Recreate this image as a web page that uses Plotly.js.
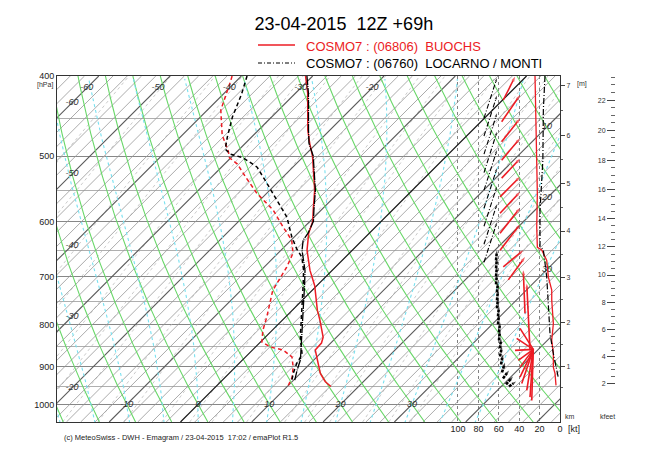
<!DOCTYPE html>
<html><head><meta charset="utf-8">
<script src="https://cdn.plot.ly/plotly-3.0.1.min.js"></script>
<style>body{margin:0;background:#fff}#chart{width:650px;height:455px}</style>
</head><body><div id="chart"></div>
<script>
// ---------------- DATA ----------------
// BUOCHS (red) temperature and dew point profiles [hPa, degC]
const buochsTempP = [400, 419.5, 465.1, 482.4, 500, 530.4, 550, 581.6, 600, 620.2, 641.2, 650.3, 688, 717.9, 768.6, 790.8, 828.7, 842.5, 859, 882.9, 917, 937.7, 950.9];
const buochsTemp  = [-31.0, -28.3, -23.1, -21.0, -18.8, -15.6, -13.7, -11.1, -9.6, -8.5, -7.0, -6.35, -3.1, -0.3, 3.5, 5.3, 8.1, 8.7, 8.8, 10.5, 12.8, 14.6, 16.1];
const buochsDewP  = [400, 405.6, 439.9, 471.7, 493.2, 502.4, 511.4, 530.4, 554.6, 581.6, 610, 632.4, 655.8, 682.4, 713.8, 727.9, 784, 813.3, 840.2, 851.9, 859, 875.7, 900.9, 927.2, 948.2];
const buochsDew   = [-41.3, -40.8, -38.1, -34.4, -31.3, -30.2, -28.2, -25.2, -21.4, -16.7, -12.9, -9.9, -7.9, -6.8, -5.9, -5.5, -2.6, -1.3, 0.2, 2.1, 4.3, 6.5, 8.1, 9.4, 10.0];
// LOCARNO / MONTI (black)
const locarnoTempP = [400, 419.5, 465.1, 482.4, 500, 530.4, 550, 581.6, 600, 620, 632.4, 650.3, 688, 713.8, 768.6, 828.7, 882.9, 909, 935.5];
const locarnoTemp  = [-30.8, -28.2, -23.0, -21.1, -18.7, -15.5, -13.6, -11.0, -9.5, -8.6, -8.3, -7.05, -3.8, -2.0, 1.5, 5.1, 8.1, 9.1, 10.2];
const locarnoDewP  = [400, 421.1, 448.5, 474.3, 490.5, 497.4, 502.4, 515.8, 539.3, 565.6, 593.1, 627.1, 647.7, 663, 688, 713.8, 768.6, 828.7, 870, 892.3, 917, 935.5];
const locarnoDew   = [-39.2, -37.4, -35.5, -33.4, -32.0, -30.6, -28.3, -25.0, -21.4, -17.6, -13.8, -10.3, -8.0, -6.1, -4.0, -2.2, 1.3, 4.9, 7.6, 8.1, 9.0, 9.8];
// wind speed profiles [hPa, kt]
const buochsWindP  = [400, 461, 555, 610, 645, 650, 669, 701, 727, 748, 798, 836, 867, 902, 917, 948];
const buochsWindKt = [24.5, 23.5, 22.2, 22.8, 22.2, 17.9, 13.0, 11.4, 8.1, 8.1, 6.5, 8.1, 6.5, 6.5, 4.9, 3.9];
const locarnoWindP  = [400, 439, 506, 582, 643, 650, 701, 762, 821, 868, 909, 927];
const locarnoWindKt = [14.7, 16.3, 16.8, 19.6, 19.6, 16.3, 13.0, 11.4, 9.8, 6.5, 3.3, 1.7];
// wind vectors (tail -> head) in the wind panel [kt axis, hPa]
const redArrowTailKt = [55.6, 57.2, 57.2, 57.2, 57.2, 58.8, 58.8, 58.8, 58.8, 55.6, 50.7, 34.3, 29.4];
const redArrowTailP  = [427.7, 454.5, 480.6, 505.9, 531.9, 560.3, 586.6, 620.3, 650.3, 681, 706.3, 775.5, 859.9];
const redArrowHeadKt = [44.1, 39.2, 39.2, 39.2, 39.2, 39.2, 39.2, 39.2, 39.2, 36.0, 34.3, 36.0, 32.6];
const redArrowHeadP  = [400.8, 421.9, 450.2, 475.9, 503.8, 529.9, 552.7, 577.9, 605.2, 650.3, 662.9, 687.7, 713.8];
const redFanCenterKt = 26.2, redFanCenterP = 857.5;
const redFanKt = [44.1, 42.5, 39.2, 40.9, 39.2, 39.2, 37.5, 32.6, 29.4, 27.7];
const redFanP  = [859.9, 831.6, 808.6, 884.3, 901, 926.5, 942.9, 961.6, 979.7, 988.8];
const blackArrowTailKt = [74.5, 74.5, 74.5, 74.5, 74.5, 74.5, 74.5, 74.5, 74.5];
const blackArrowTailP  = [449.8, 472.9, 497.4, 523.7, 550, 578.4, 608.2, 639.5, 672.5];
const blackArrowHeadKt = [61.8, 61.8, 61.8, 61.8, 61.8, 61.8, 61.8, 61.8, 61.8];
const blackArrowHeadP  = [402.2, 422.5, 443.9, 467.4, 491.8, 517.2, 543.9, 571.9, 601.4];
const blackLowTailKt = [62.7, 62.7, 62.7, 62.7, 61.8, 61.8, 61.8, 60.8, 60.8, 59.8, 59.8, 58.8, 58.8, 57.8, 56.9, 55.9, 52.9, 50.0];
const blackLowTailP  = [668.8, 683.9, 699.4, 715.2, 731.4, 747.8, 764.8, 782.0, 799.7, 817.8, 836.3, 855.1, 874.5, 894.3, 914.4, 929.9, 945.6, 950.9];
const blackLowHeadKt = [61.8, 61.8, 61.8, 61.8, 60.8, 60.8, 60.8, 59.8, 59.8, 58.8, 58.8, 57.8, 56.9, 55.9, 53.9, 50.0, 46.1, 43.1];
const blackLowHeadP  = [650.4, 665.1, 680.1, 695.5, 711.2, 727.3, 743.7, 760.5, 777.7, 795.2, 813.2, 831.6, 850.4, 869.6, 889.3, 909.4, 924.7, 937.7];
// axes / labels
const pressureTicks = [400, 500, 600, 700, 800, 900, 1000];
const pressureMinor = [450, 550, 650, 750, 850, 950];
const windTicks = [0, 20, 40, 60, 80, 100];
const kmTicks = [1, 2, 3, 4, 5, 6, 7];
const kfeetTicks = [2, 4, 6, 8, 10, 12, 14, 16, 18, 20, 22];
const isoLabelTop = [-60, -50, -40, -30, -20];
const isoLabelLeft = [-60, -50, -40, -30, -20];
const isoLabelBottom = [-10, 0, 10, 20, 30];
const isoLabelRight = [10, 20, 30];
const titleText = '23-04-2015\u00a0\u00a012Z +69h';
const legendRed = 'COSMO7 : (06806)\u00a0\u00a0BUOCHS';
const legendBlack = 'COSMO7 : (06760)\u00a0\u00a0LOCARNO / MONTI';
const footerText = '(c) MeteoSwiss - DWH - Emagram / 23-04-2015\u00a0\u00a017:02 / emaPlot R1.5';

// ---------------- GEOMETRY ----------------
const SKEW = 50.29;           // degC per unit ln(p) (45 deg skew)
const PTOP = 400, PBOT = 1050;
const XMIN = -19.776, XMAX = 50.77;
const sx = (T, p) => T + SKEW * Math.log(1000 / p);
const RED = 'rgb(236,28,36)';
const pGrid = []; for (let p = PBOT; p >= PTOP - 0.1; p -= 5) pGrid.push(p);

function lineTrace(xs, ys, color, width, dash, xa) {
  return {type: 'scatter', mode: 'lines', x: xs, y: ys, xaxis: xa || 'x', yaxis: 'y',
    line: {color: color, width: width, dash: dash || 'solid'}, hoverinfo: 'skip', connectgaps: false};
}
const traces = [];

// isotherms
const isoLight = {x: [], y: []}, isoDark = {x: [], y: []}, isoZero = {x: [], y: []};
for (let T = -130; T <= 60; T += 2) {
  const tgt = T === 0 ? isoZero : (T % 10 === 0 ? isoDark : isoLight);
  tgt.x.push(sx(T, PBOT), sx(T, PTOP), null); tgt.y.push(PBOT, PTOP, null);
}
// mixing ratio lines (g/kg)
const mix = {x: [], y: []};
const mixVals = [0.05, 0.1, 0.2, 0.3, 0.5, 0.7, 1, 1.5, 2, 3, 4, 5, 7, 10, 12, 15, 20, 25, 30];
mixVals.forEach(w => {
  pGrid.forEach(p => {
    const e = p * w / (622 + w);
    const l = Math.log(e / 6.112);
    const td = 243.5 * l / (17.67 - l);
    mix.x.push(sx(td, p)); mix.y.push(p);
  });
  mix.x.push(null); mix.y.push(null);
});
// dry adiabats
const dry = {x: [], y: []};
for (let th = 233.15; th <= 383.15; th += 5) {
  pGrid.forEach(p => { dry.x.push(sx(th * Math.pow(p / 1000, 0.2857) - 273.15, p)); dry.y.push(p); });
  dry.x.push(null); dry.y.push(null);
}
// moist (pseudo) adiabats
function dTdlnp(Tk, p) {
  const es = 6.112 * Math.exp(17.67 * (Tk - 273.15) / (Tk - 29.65));
  const rs = 0.622 * es / (p - es);
  const Rd = 287.04, cp = 1005.7, Lv = 2.501e6;
  return (Rd * Tk + Lv * rs) / (cp + Lv * Lv * rs * 0.622 / (Rd * Tk * Tk));
}
const moist = {x: [], y: []};
for (let tw = -25; tw <= 40; tw += 5) {
  const up = [], dn = [];
  const h = 0.004;
  let Tk = tw + 273.15, lp = Math.log(1000);
  while (Math.exp(lp) > PTOP - 1) {
    const p = Math.exp(lp), k1 = dTdlnp(Tk, p), k2 = dTdlnp(Tk - k1 * h / 2, Math.exp(lp - h / 2));
    Tk -= k2 * h; lp -= h; up.push([Math.exp(lp), Tk - 273.15]);
  }
  Tk = tw + 273.15; lp = Math.log(1000);
  while (Math.exp(lp) < PBOT + 1) {
    const p = Math.exp(lp), k1 = dTdlnp(Tk, p), k2 = dTdlnp(Tk + k1 * h / 2, Math.exp(lp + h / 2));
    Tk += k2 * h; lp += h; dn.push([Math.exp(lp), Tk - 273.15]);
  }
  const all = dn.reverse().concat([[1000, tw]], up);
  all.forEach((a, i) => { if (i % 5 === 0) { moist.x.push(sx(a[1], a[0])); moist.y.push(a[0]); } });
  moist.x.push(null); moist.y.push(null);
}

traces.push(lineTrace(mix.x, mix.y, 'rgb(180,180,180)', 0.7, '3px,3px'));
traces.push(lineTrace(isoLight.x, isoLight.y, 'rgb(150,150,150)', 0.8));
traces.push(lineTrace(isoDark.x, isoDark.y, 'rgb(90,90,90)', 1.1));
traces.push(lineTrace(dry.x, dry.y, 'rgb(105,215,105)', 1.1));
traces.push(lineTrace(moist.x, moist.y, 'rgb(120,225,240)', 1.1, 'dot'));
traces.push(lineTrace(isoZero.x, isoZero.y, 'rgb(20,20,20)', 1.2));

// profiles
traces.push(lineTrace(buochsTemp.map((t, i) => sx(t, buochsTempP[i])), buochsTempP, RED, 1.5));
traces.push(lineTrace(buochsDew.map((t, i) => sx(t, buochsDewP[i])), buochsDewP, RED, 1.5, '4px,3px'));
traces.push(lineTrace(locarnoTemp.map((t, i) => sx(t, locarnoTempP[i])), locarnoTempP, 'rgb(0,0,0)', 1.3, '9px,1px,1px,1px'));
traces.push(lineTrace(locarnoDew.map((t, i) => sx(t, locarnoDewP[i])), locarnoDewP, 'rgb(0,0,0)', 1.5, '4px,3px'));

// wind panel
function arrows(tk, tp, hk, hp, color, width, dash, head) {
  const x = [], y = [], s = [];
  tk.forEach((v, i) => { x.push(v, hk[i], null); y.push(tp[i], hp[i], null); s.push(0, head, 0); });
  return {type: 'scatter', mode: head ? 'lines+markers' : 'lines', x: x, y: y, xaxis: 'x2', yaxis: 'y',
    line: {color: color, width: width, dash: dash || 'solid'},
    marker: {symbol: 'arrow', size: s, angleref: 'previous', color: color, line: {width: 0}},
    hoverinfo: 'skip'};
}
traces.push(arrows(blackArrowTailKt, blackArrowTailP, blackArrowHeadKt, blackArrowHeadP, 'rgb(0,0,0)', 1.1, '5px,2px,1px,2px', 4));
traces.push(arrows(blackLowTailKt, blackLowTailP, blackLowHeadKt, blackLowHeadP, 'rgb(0,0,0)', 2.6, '3px,1px', 4));
traces.push(arrows(redArrowTailKt, redArrowTailP, redArrowHeadKt, redArrowHeadP, RED, 1.6, 'solid', 5));
traces.push(arrows(redFanKt.map(() => redFanCenterKt), redFanKt.map(() => redFanCenterP), redFanKt, redFanP, RED, 1.6, 'solid', 0));
traces.push(lineTrace(buochsWindKt, buochsWindP, RED, 1.3, 'solid', 'x2'));
traces.push(lineTrace(locarnoWindKt, locarnoWindP, 'rgb(0,0,0)', 1.2, '6px,2px,1px,2px', 'x2'));

// isotherm labels
const lab = {x: [], y: [], t: []};
const pAt = (X, T) => 1000 * Math.exp(-(X - T) / SKEW);
isoLabelTop.forEach(T => { lab.x.push(sx(T, 413.6)); lab.y.push(413.6); lab.t.push(String(T)); });
isoLabelLeft.forEach(T => { const X = -17.67; lab.x.push(X); lab.y.push(pAt(X, T)); lab.t.push(String(T)); });
isoLabelBottom.forEach(T => { lab.x.push(sx(T, 1000)); lab.y.push(1000); lab.t.push(String(T)); });
isoLabelRight.forEach(T => { const X = 48.95; lab.x.push(X); lab.y.push(pAt(X, T)); lab.t.push(String(T)); });
traces.push({type: 'scatter', mode: 'text', x: lab.x, y: lab.y, text: lab.t, textposition: 'middle center',
  textfont: {family: 'Liberation Sans, Arial, sans-serif', size: 9, color: '#333', style: 'italic'},
  hoverinfo: 'skip', cliponaxis: false});

// dummy traces so the extra height axes render
traces.push({type: 'scatter', mode: 'markers', x: [0], y: [500], yaxis: 'y2', marker: {opacity: 0}, hoverinfo: 'skip'});
traces.push({type: 'scatter', mode: 'markers', x: [0], y: [500], yaxis: 'y3', marker: {opacity: 0}, hoverinfo: 'skip'});

// height axes (standard atmosphere)
const stdP = hm => 1013.25 * Math.pow(1 - 2.25577e-5 * hm, 5.25588);
const kmMinor = []; for (let h = 0.5; h <= 7.5; h += 0.5) if (h % 1 !== 0) kmMinor.push(stdP(h * 1000));
const kftMinor = []; for (let f = 2.5; f <= 23.5; f += 0.5) if (f % 2 !== 0) kftMinor.push(stdP(f * 304.8));

const W = 573, H = 346, L = 57, TOP = 76;
const px = v => (v - L) / W, py = v => (TOP + H - v) / H;
const FONT = 'Liberation Sans, Arial, sans-serif';
const yr = [Math.log10(PBOT), Math.log10(PTOP)];

const layout = {
  width: 650, height: 455, margin: {l: 57, r: 20, t: 76, b: 33},
  paper_bgcolor: '#fff', plot_bgcolor: '#fff', showlegend: false,
  font: {family: FONT, size: 9, color: '#222'},
  title: {text: titleText, x: 0.529, xanchor: 'center', y: 0.947, yanchor: 'middle', font: {family: FONT, size: 18, color: '#000'}},
  xaxis: {domain: [0, 503 / 573], range: [XMIN, XMAX], showgrid: false, zeroline: false, showticklabels: false,
    ticks: '', showline: true, mirror: true, linecolor: '#333', linewidth: 1},
  xaxis2: {overlaying: 'x', anchor: 'y', side: 'bottom', range: [493.1, 0], tickmode: 'array', tickvals: windTicks,
    ticktext: windTicks.map(String), showgrid: true, griddash: 'dot', gridcolor: 'rgb(130,130,130)', gridwidth: 1,
    zeroline: false, ticks: '', showline: false, tickfont: {size: 9, color: '#222'}},
  yaxis: {type: 'log', range: yr, tickmode: 'array', tickvals: pressureTicks, ticktext: pressureTicks.map(String),
    showgrid: true, gridcolor: 'rgb(135,135,135)', gridwidth: 1,
    minor: {tickmode: 'array', tickvals: pressureMinor, showgrid: true, gridcolor: 'rgb(175,175,175)', gridwidth: 1, ticks: ''},
    showline: true, mirror: true, linecolor: '#333', ticks: '', zeroline: false, tickfont: {size: 9, color: '#222'}},
  yaxis2: {type: 'log', range: yr, overlaying: 'y', anchor: 'x', side: 'right', tickmode: 'array',
    tickvals: kmTicks.map(k => stdP(k * 1000)), ticktext: kmTicks.map(String), ticks: 'outside', ticklen: 4,
    tickcolor: '#444', minor: {tickmode: 'array', tickvals: kmMinor, ticks: 'outside', ticklen: 2, tickcolor: '#666'},
    showgrid: false, zeroline: false, showline: false, tickfont: {size: 7, color: '#333'}},
  yaxis3: {type: 'log', range: yr, overlaying: 'y', anchor: 'free', position: (615 - 57) / 573, side: 'left',
    tickmode: 'array', tickvals: kfeetTicks.map(f => stdP(f * 304.8)), ticktext: kfeetTicks.map(String),
    ticks: 'outside', ticklen: 8, tickcolor: '#444',
    minor: {tickmode: 'array', tickvals: kftMinor, ticks: 'outside', ticklen: 4, tickcolor: '#666'},
    showgrid: false, zeroline: false, showline: false, tickfont: {size: 7, color: '#333'}},
  shapes: [
    {type: 'line', xref: 'paper', yref: 'paper', x0: px(258), x1: px(295), y0: py(45), y1: py(45), line: {color: RED, width: 1.5}},
    {type: 'line', xref: 'paper', yref: 'paper', x0: px(258), x1: px(295), y0: py(63), y1: py(63), line: {color: '#000', width: 1, dash: '4px,2px,1px,2px'}}
  ],
  annotations: [
    {xref: 'paper', yref: 'paper', x: px(304), y: py(46), xanchor: 'left', yanchor: 'middle', showarrow: false, text: legendRed, font: {family: FONT, size: 13, color: RED}},
    {xref: 'paper', yref: 'paper', x: px(304), y: py(64), xanchor: 'left', yanchor: 'middle', showarrow: false, text: legendBlack, font: {family: FONT, size: 13, color: '#000'}},
    {xref: 'paper', yref: 'paper', x: px(62), y: py(437), xanchor: 'left', yanchor: 'middle', showarrow: false, text: footerText, font: {family: FONT, size: 7.5, color: '#222'}},
    {xref: 'paper', yref: 'paper', x: px(55), y: py(85), xanchor: 'right', yanchor: 'middle', showarrow: false, text: '[hPa]', font: {family: FONT, size: 7, color: '#333'}},
    {xref: 'paper', yref: 'paper', x: px(575), y: py(84), xanchor: 'left', yanchor: 'middle', showarrow: false, text: '[m]', font: {family: FONT, size: 7, color: '#333'}},
    {xref: 'paper', yref: 'paper', x: px(563), y: py(416), xanchor: 'left', yanchor: 'middle', showarrow: false, text: 'km', font: {family: FONT, size: 7, color: '#333'}},
    {xref: 'paper', yref: 'paper', x: px(598), y: py(416), xanchor: 'left', yanchor: 'middle', showarrow: false, text: 'kfeet', font: {family: FONT, size: 7, color: '#333'}},
    {xref: 'paper', yref: 'paper', x: px(566), y: py(429), xanchor: 'left', yanchor: 'middle', showarrow: false, text: '[kt]', font: {family: FONT, size: 9, color: '#222'}}
  ]
};
Plotly.newPlot('chart', traces, layout, {staticPlot: true, displayModeBar: false});
</script>
</body></html>
